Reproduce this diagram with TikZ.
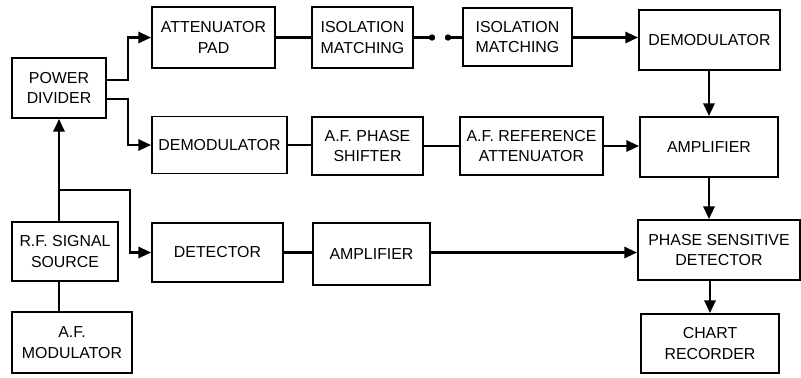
\documentclass[tikz,border=0pt]{standalone}
\usepackage{fontspec}
\setmainfont{Liberation Sans}
\usetikzlibrary{calc, arrows.meta}

\begin{document}
\begin{tikzpicture}[x=0.025cm, y=-0.025cm,
    blk/.style={draw, line width=1.3pt, align=center, inner sep=1pt,
        font=\fontsize{11.3}{14.5}\selectfont},
    wire/.style={line width=1.8pt},
    arr/.style={wire, -{Triangle[length=3.2mm, width=2.8mm]}}]
    \useasboundingbox (0,0) rectangle (801,377);
    % Left column
    \node[blk, minimum width=2.35cm, minimum height=1.5cm] (pd) at (59,88) {POWER\\DIVIDER};
    \node[blk, minimum width=2.65cm, minimum height=1.475cm] (rf) at (65,251.5) {R.F. SIGNAL\\SOURCE};
    \node[blk, minimum width=3.0cm, minimum height=1.525cm] (mod) at (72,342.5) {A.F.\\MODULATOR};
    % Top row
    \node[blk, minimum width=3.075cm, minimum height=1.525cm] (pad) at (213.5,37.5) {ATTENUATOR\\PAD};
    \node[blk, minimum width=2.525cm, minimum height=1.525cm] (iso1) at (362.5,37.5) {ISOLATION\\MATCHING};
    \node[blk, minimum width=2.725cm, minimum height=1.45cm] (iso2) at (517.5,37) {ISOLATION\\MATCHING};
    \node[blk, minimum width=3.525cm, minimum height=1.5cm] (demodA) at (709.5,40) {DEMODULATOR};
    % Middle row
    \node[blk, minimum width=3.375cm, minimum height=1.425cm] (demodB) at (219.5,145) {DEMODULATOR};
    \node[blk, minimum width=2.775cm, minimum height=1.45cm] (shifter) at (367.5,146) {A.F. PHASE\\SHIFTER};
    \node[blk, minimum width=3.575cm, minimum height=1.45cm] (refatt) at (531.5,146) {A.F. REFERENCE\\ATTENUATOR};
    \node[blk, minimum width=3.45cm, minimum height=1.5cm] (ampA) at (709,147) {AMPLIFIER};
    % Bottom row
    \node[blk, minimum width=3.275cm, minimum height=1.475cm] (det) at (217.5,252.5) {DETECTOR};
    \node[blk, minimum width=2.925cm, minimum height=1.55cm] (ampB) at (371.5,254) {AMPLIFIER};
    \node[blk, minimum width=4.05cm, minimum height=1.5cm] (psd) at (719,250) {PHASE SENSITIVE\\DETECTOR};
    \node[blk, minimum width=3.45cm, minimum height=1.475cm] (chart) at (710,343.5) {CHART\\RECORDER};
    % Break in the top line
    \coordinate (gapL) at (432,37.5);
    \coordinate (gapR) at (448,37.5);
    \coordinate (tap) at (59,190);
    % Outputs of the power divider
    \draw[arr] ([yshift=0.2cm]pd.east) -| (128,60) |- (pad.west);
    \draw[arr] ([yshift=-0.27cm]pd.east) -| (128,120) |- (demodB.west);
    % Signal source and branch to detector
    \draw[wire] (pd.south |- mod.north) -- (pd.south |- rf.south);
    \draw[arr] (pd.south |- rf.north) -- (pd.south);
    \draw[arr] (tap) -| (130,230) |- (det.west);
    % Top chain
    \draw[wire] (pad.east) -- (iso1.west);
    \draw[wire] (iso1.east |- gapL) -- (gapL);
    \draw[wire] (gapR) -- (iso2.west |- gapR);
    \fill (gapL) circle (3.2);
    \fill (gapR) circle (3.2);
    \draw[arr] (iso2.east |- gapR) -- (demodA.west |- gapR);
    \draw[arr] (demodA.south -| ampA.north) -- (ampA.north);
    % Middle chain
    \draw[wire] (demodB.east) -- (shifter.west |- demodB.east);
    \draw[wire] (shifter.east) -- (refatt.west);
    \draw[arr] (refatt.east) -- (ampA.west |- refatt.east);
    \draw[arr] (ampA.south) -- (ampA.south |- psd.north);
    % Bottom chain
    \draw[wire] (det.east) -- (ampB.west |- det.east);
    \draw[arr] (ampB.east |- det.east) -- (psd.west |- det.east);
    \draw[arr] (chart.north |- psd.south) -- (chart.north);
\end{tikzpicture}
\end{document}
